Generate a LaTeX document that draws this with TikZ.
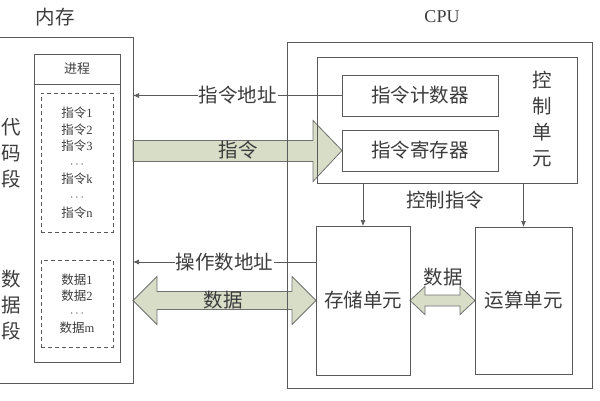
\documentclass[tikz,border=0pt]{standalone}
\usepackage{fontspec}
\newfontfamily\cjk{Noto Sans CJK SC}
\newfontfamily\latin{Liberation Serif}
\usetikzlibrary{calc, arrows.meta, positioning, backgrounds}
\definecolor{linegray}{HTML}{5A5A5A}
\definecolor{txtgray}{HTML}{3C3C3C}
\definecolor{fatfill}{HTML}{D8DDC7}
\definecolor{fatline}{HTML}{707070}
\tikzset{
  box/.style={draw=linegray, line width=0.8pt, outer sep=0pt, inner sep=0pt, anchor=north west, text=txtgray},
  dbox/.style={box, dashed, dash pattern=on 4pt off 3pt, line width=0.7pt},
  fat/.style={draw=fatline, fill=fatfill, line width=0.8pt, line join=miter},
  thin/.style={draw=linegray, line width=0.7pt, -{Latex[length=6pt,width=5pt]}},
  lbl/.style={font=\cjk\fontsize{19.5}{19.5}\selectfont, text=txtgray, inner sep=1pt},
  vlbl/.style={lbl, align=center, font=\cjk\fontsize{19.5}{26}\selectfont},
  small/.style={align=center, text=txtgray, font=\latin\fontsize{12.5}{16.6}\selectfont},
}
\begin{document}
\begin{tikzpicture}[x=1pt, y=-1pt]
  \useasboundingbox (0,0) rectangle (600,400);
  % 内存
  \node[lbl] (memlbl) at (55,17) {内存};
  \node[box, minimum width=138, minimum height=346] (mem) at (-5,37) {};
  \node[box, minimum width=86, minimum height=30, font=\cjk\fontsize{13}{13}\selectfont] (proch) at (34,54) {进程};
  \node[box, minimum width=86, minimum height=278] (procb) at (34,84) {};
  \node[dbox, small, minimum width=72, minimum height=139] (code) at (41,93)
    {{\cjk 指令}1\\{\cjk 指令}2\\{\cjk 指令}3\\$\cdots$\\{\cjk 指令}k\\$\cdots$\\{\cjk 指令}n};
  \node[dbox, small, minimum width=72, minimum height=87, font=\latin\fontsize{12.5}{16}\selectfont] (data) at (41,260)
    {{\cjk 数据}1\\{\cjk 数据}2\\$\cdots$\\{\cjk 数据}m};
  \node[vlbl] (codelbl) at (11,153) {代\\码\\段};
  \node[vlbl] (datalbl) at (11,305) {数\\据\\段};
  % CPU
  \node[font=\latin\fontsize{18}{18}\selectfont, text=txtgray] (cpulbl) at (442,17) {CPU};
  \node[box, minimum width=305, minimum height=346] (cpu) at (287,42) {};
  \node[box, minimum width=260, minimum height=126] (ctrl) at (317,57) {};
  \node[box, lbl, inner sep=0pt, minimum width=156, minimum height=41] (pc) at (342,75) {指令计数器};
  \node[box, lbl, inner sep=0pt, minimum width=156, minimum height=41] (ir) at (342,130) {指令寄存器};
  \node[vlbl] (ctrllbl) at (542,119) {控\\制\\单\\元};
  \node[box, lbl, inner sep=0pt, minimum width=94, minimum height=149] (store) at (316,226) {存储单元};
  \node[box, lbl, inner sep=0pt, minimum width=97, minimum height=147] (alu) at (475,227) {运算单元};
  % 地址线与控制线
  \draw[thin] (pc.west) -- (pc.west -| mem.east) node[midway, lbl, fill=white] {指令地址};
  \path (store.north west) ++(0,36) coordinate (oa);
  \draw[thin] (oa) -- (oa -| mem.east) node[midway, lbl, fill=white] {操作数地址};
  \draw[thin] (ctrl.south -| store.north) -- (store.north);
  \draw[thin] (ctrl.south -| alu.north) -- (alu.north);
  \node[lbl] (cmd) at (445,200) {控制指令};
  % 宽箭头
  \begin{scope}[on background layer]
    \draw[fat] (ir.west) -- ++(-29,-30) -- ++(0,20) -- ++(-180,0) -- ++(0,21) -- ++(180,0) -- ++(0,20) -- cycle;
    \draw[fat] (mem.east |- store.west) -- ++(24,-24) -- ++(0,15) -- ++(135,0) -- ++(0,-15) -- (store.west)
      -- ++(-24,24) -- ++(0,-15) -- ++(-135,0) -- ++(0,15) -- cycle;
    \draw[fat] (store.east) -- ++(15,-14) -- ++(0,8.5) -- ++(35,0) -- ++(0,-8.5) -- (alu.west)
      -- ++(-15,14) -- ++(0,-8.5) -- ++(-35,0) -- ++(0,8.5) -- cycle;
  \end{scope}
  \node[lbl] (irlbl) at (238,150) {指令};
  \node[lbl] (datalbl2) at (223,300) {数据};
  \node[lbl] (alulbl) at (443,277) {数据};
\end{tikzpicture}
\end{document}
